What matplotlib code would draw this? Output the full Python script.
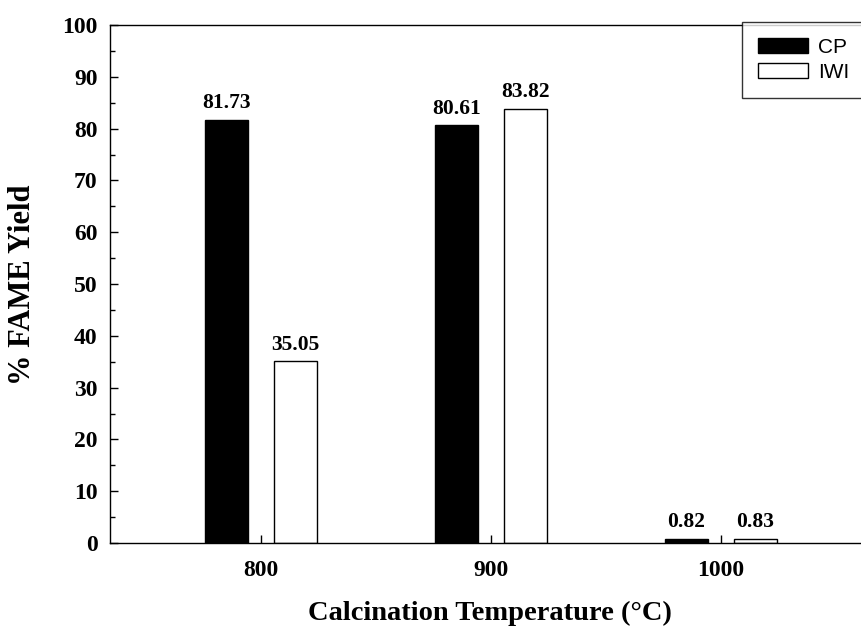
import numpy as np
import matplotlib.pyplot as plt

temps = [800, 900, 1000]
cp_yield = [81.73, 80.61, 0.82]
iwi_yield = [35.05, 83.82, 0.83]
series_names = ["CP", "IWI"]

serif = ["Liberation Serif", "DejaVu Serif"]
sans = ["Liberation Sans", "DejaVu Sans"]

W, H = 862, 628
fig = plt.figure(figsize=(W / 100, H / 100), dpi=100)
# axes run slightly past the right border, so the right spine falls outside
ax = fig.add_axes([110 / W, 1 - 543 / H, (872 - 110) / W, (543 - 25) / H])

x = np.array(temps, dtype=float)
bw = 18.5
off = 15
b1 = ax.bar(x - off, cp_yield, bw, color="black", edgecolor="black", linewidth=1, label=series_names[0])
b2 = ax.bar(x + off, iwi_yield, bw, color="white", edgecolor="black", linewidth=1, label=series_names[1])

for bars, vals in ((b1, cp_yield), (b2, iwi_yield)):
    for r, v in zip(bars, vals):
        ax.text(r.get_x() + r.get_width() / 2, v + 1.3, f"{v:.2f}",
                ha="center", va="bottom", fontsize=15.5, fontweight="bold", family=serif)

ax.set_xlim(734.3, 1065.7)
ax.set_ylim(0, 100)
ax.set_xticks(temps)
ax.set_yticks(np.arange(0, 101, 10))
ax.set_yticks(np.arange(5, 100, 10), minor=True)
ax.tick_params(axis="both", direction="in", length=6, width=1, labelsize=17, pad=9)
ax.tick_params(axis="y", which="minor", direction="in", length=3.5, width=1)
ax.tick_params(axis="x", pad=12)
for lab in ax.get_xticklabels() + ax.get_yticklabels():
    lab.set_family(serif)
    lab.set_fontweight("bold")
for s in ax.spines.values():
    s.set_linewidth(1)

fig.text(23 / W, 1 - 285 / H, "% FAME Yield", rotation=90, ha="center", va="center",
         fontsize=22, fontweight="bold", family=serif)
fig.text(490 / W, 1 - 620 / H, "Calcination Temperature (°C)", ha="center", va="baseline",
         fontsize=20.5, fontweight="bold", family=serif)

leg = fig.legend(handles=[b1, b2], loc="upper left", bbox_to_anchor=(742 / W, 1 - 22 / H),
                 prop={"family": sans, "size": 15}, fancybox=False, frameon=True,
                 edgecolor="black", handlelength=2.4, handleheight=0.72, handletextpad=0.5,
                 borderpad=0.75, labelspacing=0.3, borderaxespad=0)
leg.get_frame().set_linewidth(1)

fig.savefig("out.png", dpi=100)
